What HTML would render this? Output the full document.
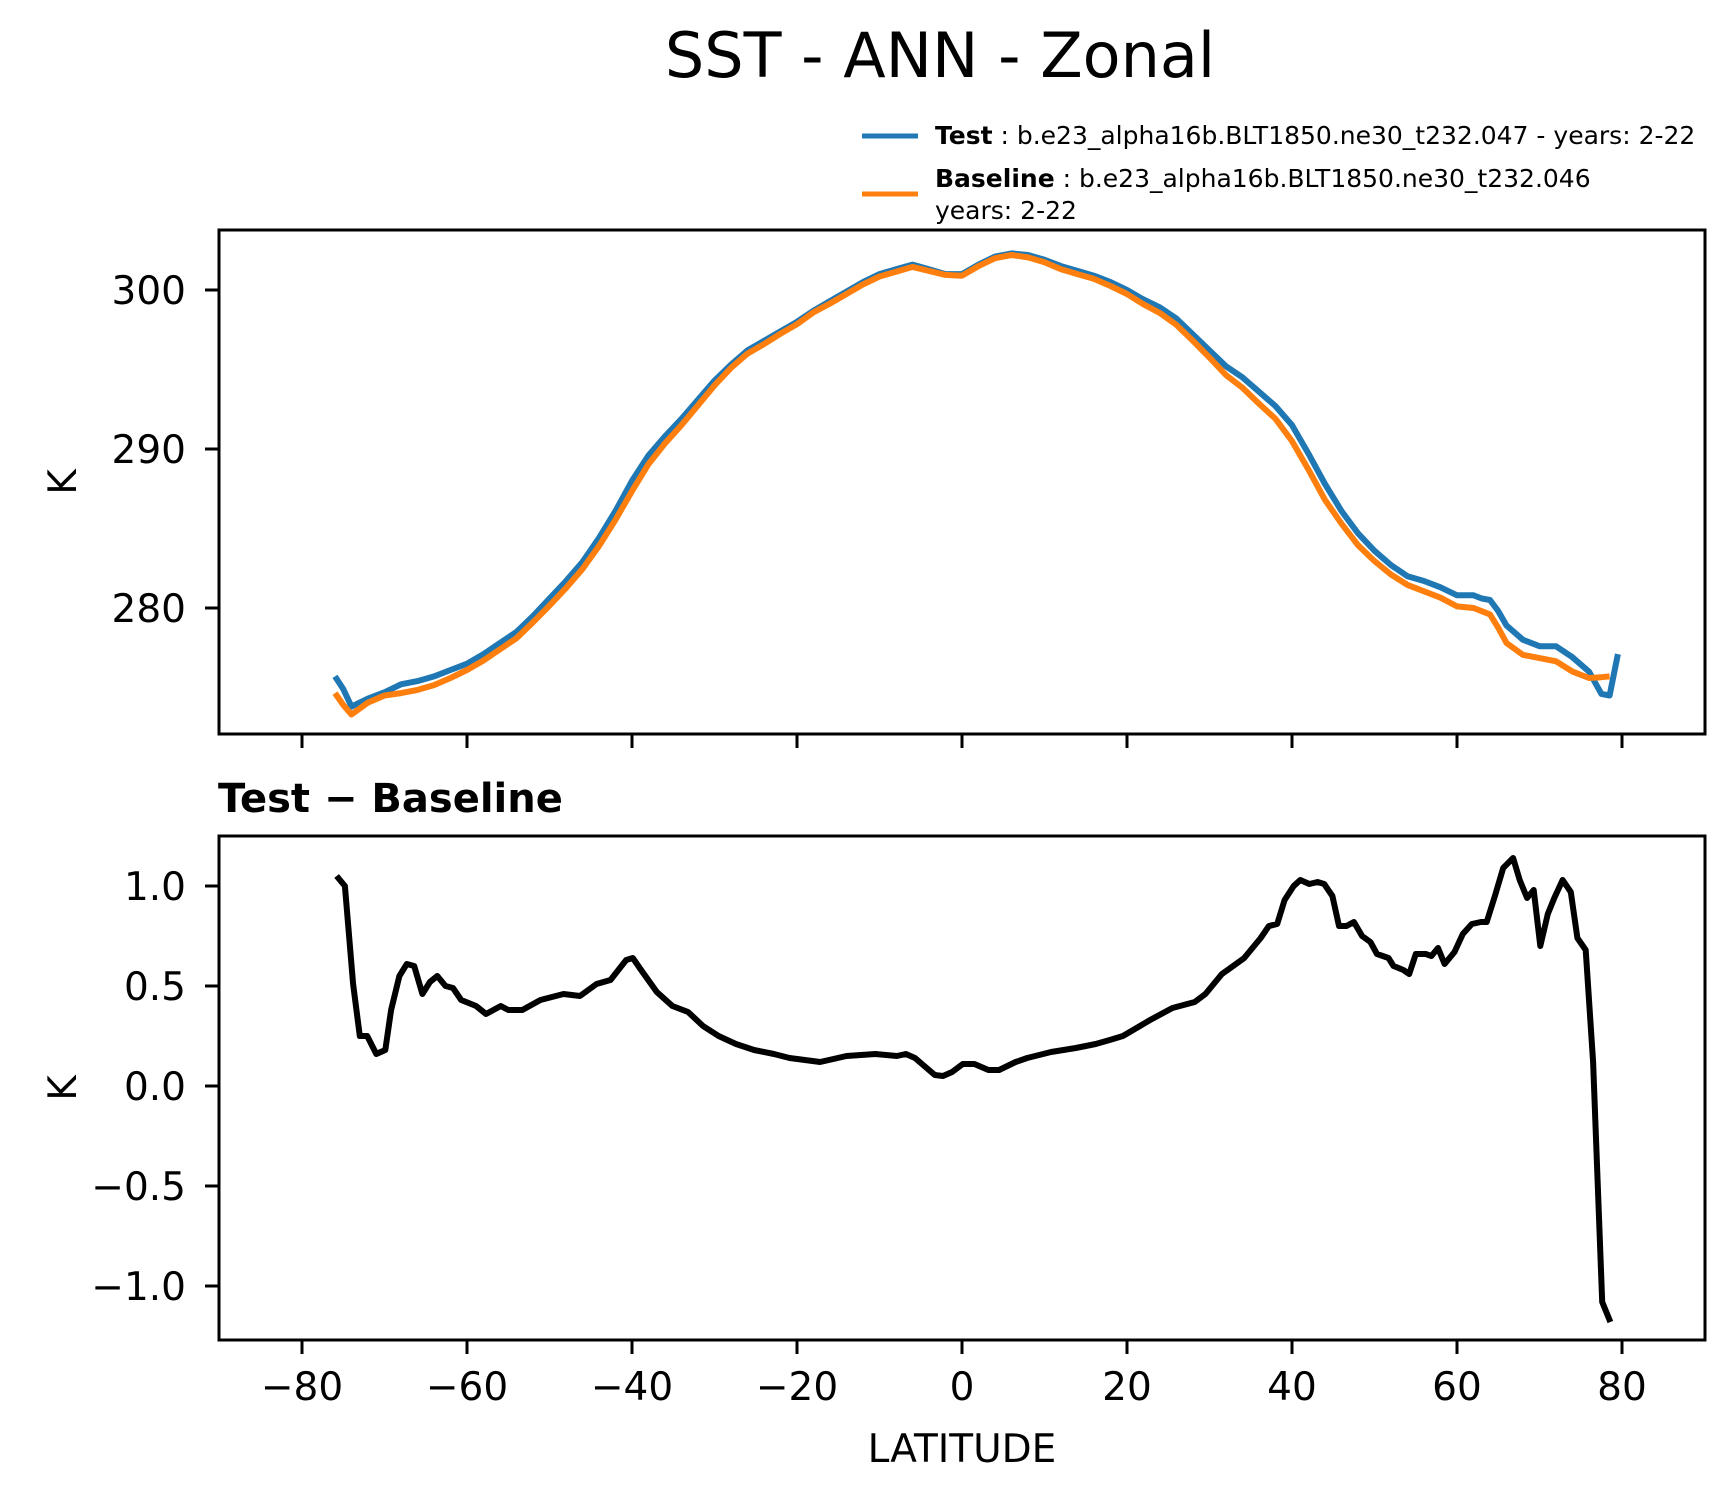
<!DOCTYPE html>
<html><head><meta charset="utf-8"><style>
html,body{margin:0;padding:0;background:#fff;}
svg text{font-family:"DejaVu Sans","Liberation Sans",sans-serif;fill:#000;}
</style></head><body>
<svg id="fig" width="1734" height="1496" viewBox="0 0 1734 1496" xmlns="http://www.w3.org/2000/svg">
<rect width="1734" height="1496" fill="#fff"/>
<text x="940" y="77" font-size="62" text-anchor="middle">SST - ANN - Zonal</text>
<g>
 <line x1="862" y1="136" x2="918" y2="136" stroke="#1f77b4" stroke-width="5"/>
 <text x="935" y="144" font-size="25"><tspan font-weight="bold">Test</tspan> : b.e23_alpha16b.BLT1850.ne30_t232.047 - years: 2-22</text>
 <line x1="862" y1="194" x2="918" y2="194" stroke="#ff7f0e" stroke-width="5"/>
 <text x="935" y="187" font-size="25"><tspan font-weight="bold">Baseline</tspan> : b.e23_alpha16b.BLT1850.ne30_t232.046</text>
 <text x="935" y="219" font-size="25">years: 2-22</text>
</g>
<text x="218" y="812" font-size="40" font-weight="bold">Test − Baseline</text>
<g id="top"></g>
<g id="bot"></g>
</svg>
<script>
const testLat = [-76,-75,-74,-72,-70,-68,-66,-64,-62,-60,-58,-56,-54,-52,-50,-48,-46,-44,-42,-40,-38,-36,-34,-32,-30,-28,-26,-24,-22,-20,-18,-16,-14,-12,-10,-8,-6,-4,-2,0,2,4,6,8,10,12,14,16,18,20,22,24,26,28,30,32,34,36,38,40,42,44,46,48,50,52,54,56,58,60,62,63,64,65,66,68,70,72,74,76,77.5,78.5,79.5];
const testSST = [275.7,274.9,273.8,274.3,274.7,275.2,275.4,275.7,276.1,276.5,277.1,277.8,278.5,279.5,280.6,281.7,282.9,284.4,286.1,288.0,289.6,290.8,291.9,293.1,294.3,295.3,296.2,296.8,297.4,298.0,298.7,299.3,299.9,300.5,301.0,301.3,301.6,301.3,301.0,301.0,301.6,302.1,302.3,302.2,301.9,301.5,301.2,300.9,300.5,300.0,299.4,298.9,298.2,297.2,296.2,295.2,294.5,293.6,292.7,291.5,289.7,287.8,286.1,284.7,283.6,282.7,282.0,281.7,281.3,280.8,280.8,280.6,280.5,279.8,278.9,278.0,277.6,277.6,276.9,276.0,274.6,274.5,277.1];
const baseLat = [-76,-75,-74,-72,-70,-68,-66,-64,-62,-60,-58,-56,-54,-52,-50,-48,-46,-44,-42,-40,-38,-36,-34,-32,-30,-28,-26,-24,-22,-20,-18,-16,-14,-12,-10,-8,-6,-4,-2,0,2,4,6,8,10,12,14,16,18,20,22,24,26,28,30,32,34,36,38,40,42,44,46,48,50,52,54,56,58,60,62,63,64,65,66,68,70,72,74,76,77.5,78.5];
const baseSST = [274.65,273.9,273.3,274.05,274.5,274.65,274.85,275.15,275.6,276.1,276.7,277.4,278.1,279.1,280.15,281.25,282.45,283.9,285.55,287.35,289.05,290.35,291.5,292.75,294.0,295.1,296.0,296.6,297.25,297.85,298.6,299.15,299.75,300.35,300.85,301.15,301.45,301.2,300.95,300.9,301.5,302.0,302.2,302.05,301.75,301.3,301.0,300.7,300.25,299.75,299.1,298.55,297.8,296.8,295.75,294.65,293.85,292.85,291.9,290.5,288.7,286.8,285.3,283.95,282.95,282.1,281.45,281.05,280.65,280.1,280.0,279.8,279.6,278.75,277.8,277.05,276.85,276.65,276.0,275.6,275.65,275.7];
const diffLat = [-75.8,-74.8,-73.8,-73.0,-72.1,-71.0,-69.9,-69.2,-68.2,-67.3,-66.4,-65.4,-64.5,-63.6,-62.6,-61.7,-60.7,-58.9,-57.7,-55.9,-55.0,-53.3,-51.1,-48.3,-46.3,-44.3,-42.6,-40.7,-39.9,-38.9,-37.0,-35.1,-33.2,-31.4,-29.5,-27.4,-25.2,-22.8,-20.9,-17.2,-14.0,-10.5,-7.9,-6.8,-5.7,-3.3,-2.3,-1.2,0.1,1.5,3.2,4.5,6.5,7.9,10.8,13.8,16.2,17.9,19.5,22.8,25.5,28.2,29.5,31.5,34.2,36.2,37.2,38.2,39.1,40.2,41.0,42.1,43.1,43.9,44.9,45.7,46.6,47.5,48.5,49.5,50.3,51.7,52.3,53.5,54.2,55.0,56.2,56.9,57.7,58.5,59.7,60.7,61.8,62.9,63.6,64.6,65.6,66.8,67.6,68.5,69.3,70.1,71.0,71.8,72.8,73.8,74.6,75.6,76.5,77.6,78.6];
const diffVal = [1.05,1.00,0.51,0.25,0.25,0.16,0.18,0.38,0.55,0.61,0.60,0.46,0.52,0.55,0.50,0.49,0.43,0.40,0.36,0.40,0.38,0.38,0.43,0.46,0.45,0.51,0.53,0.63,0.64,0.58,0.47,0.40,0.37,0.30,0.25,0.21,0.18,0.16,0.14,0.12,0.15,0.16,0.15,0.16,0.14,0.055,0.05,0.07,0.11,0.11,0.08,0.08,0.12,0.14,0.17,0.19,0.21,0.23,0.25,0.33,0.39,0.42,0.46,0.56,0.64,0.74,0.80,0.81,0.93,1.00,1.03,1.01,1.02,1.01,0.95,0.80,0.80,0.82,0.75,0.72,0.66,0.64,0.60,0.58,0.56,0.66,0.66,0.65,0.69,0.61,0.67,0.76,0.81,0.82,0.82,0.95,1.09,1.14,1.03,0.94,0.98,0.70,0.86,0.94,1.03,0.97,0.74,0.68,0.12,-1.08,-1.18];
const xTicks = [-80,-60,-40,-20,0,20,40,60,80];
const topTicks = [280,290,300];
const botTicks = [-1.0,-0.5,0.0,0.5,1.0];

const NS = "http://www.w3.org/2000/svg";
const L = 219, R = 1705;
const X = lat => 962 + 8.25 * lat;
const Ytop = k => 290 + (300 - k) * 15.9;
const Ybot = v => 1086 - 200 * v;
function mk(tag, attrs, parent) {
  const e = document.createElementNS(NS, tag);
  for (const k in attrs) e.setAttribute(k, attrs[k]);
  parent.appendChild(e);
  return e;
}
function fmt(v) { return (v < 0 ? "−" : "") + Math.abs(v).toFixed(1); }

function panel(g, top, bot, yfun, yt, ylab, showXLabels) {
  for (const t of xTicks) {
    const tk = mk("line", {x1: X(t), x2: X(t), y1: bot, y2: bot + 14, stroke: "#000", "stroke-width": 3}, g);
    
    
    if (showXLabels) {
      const tx = mk("text", {x: X(t), y: bot + 60, "font-size": 39, "text-anchor": "middle"}, g);
      tx.textContent = (t < 0 ? "−" : "") + Math.abs(t);
      
      
    }
  }
  for (const t of yt) {
    const y = yfun(t);
    const tk = mk("line", {x1: L - 14, x2: L, y1: y, y2: y, stroke: "#000", "stroke-width": 3}, g);
    
    
    const tx = mk("text", {x: L - 33, y: y + 14, "font-size": 39, "text-anchor": "end"}, g);
    tx.textContent = ylab(t);
    
    
  }
  const yl = mk("text", {x: 0, y: 0, "font-size": 39, "text-anchor": "middle", transform: `translate(76,${(top + bot) / 2}) rotate(-90)`}, g);
  yl.textContent = "K";
  
  
}
function line(g, xs, ys, yfun, color, name) {
  const d = xs.map((x, i) => (i ? "L" : "M") + X(x).toFixed(1) + " " + yfun(ys[i]).toFixed(1)).join(" ");
  const p = mk("path", {d: d, fill: "none", stroke: color, "stroke-width": 6, "stroke-linejoin": "round"}, g);
  
  
}

const gt = document.getElementById("top");


panel(gt, 230, 734, Ytop, topTicks, t => String(t), false);
line(gt, testLat, testSST, Ytop, "#1f77b4", "test-line");
line(gt, baseLat, baseSST, Ytop, "#ff7f0e", "baseline-line");
const f1 = mk("rect", {x: L, y: 230, width: R - L, height: 504, fill: "none", stroke: "#000", "stroke-width": 3}, gt);



const gb = document.getElementById("bot");


panel(gb, 836, 1340, Ybot, botTicks, fmt, true);
line(gb, diffLat, diffVal, Ybot, "#000", "difference-line");
const f2 = mk("rect", {x: L, y: 836, width: R - L, height: 504, fill: "none", stroke: "#000", "stroke-width": 3}, gb);


const xl = mk("text", {x: 962, y: 1462, "font-size": 39, "text-anchor": "middle"}, gb);
xl.textContent = "LATITUDE";


</script>
</body></html>
